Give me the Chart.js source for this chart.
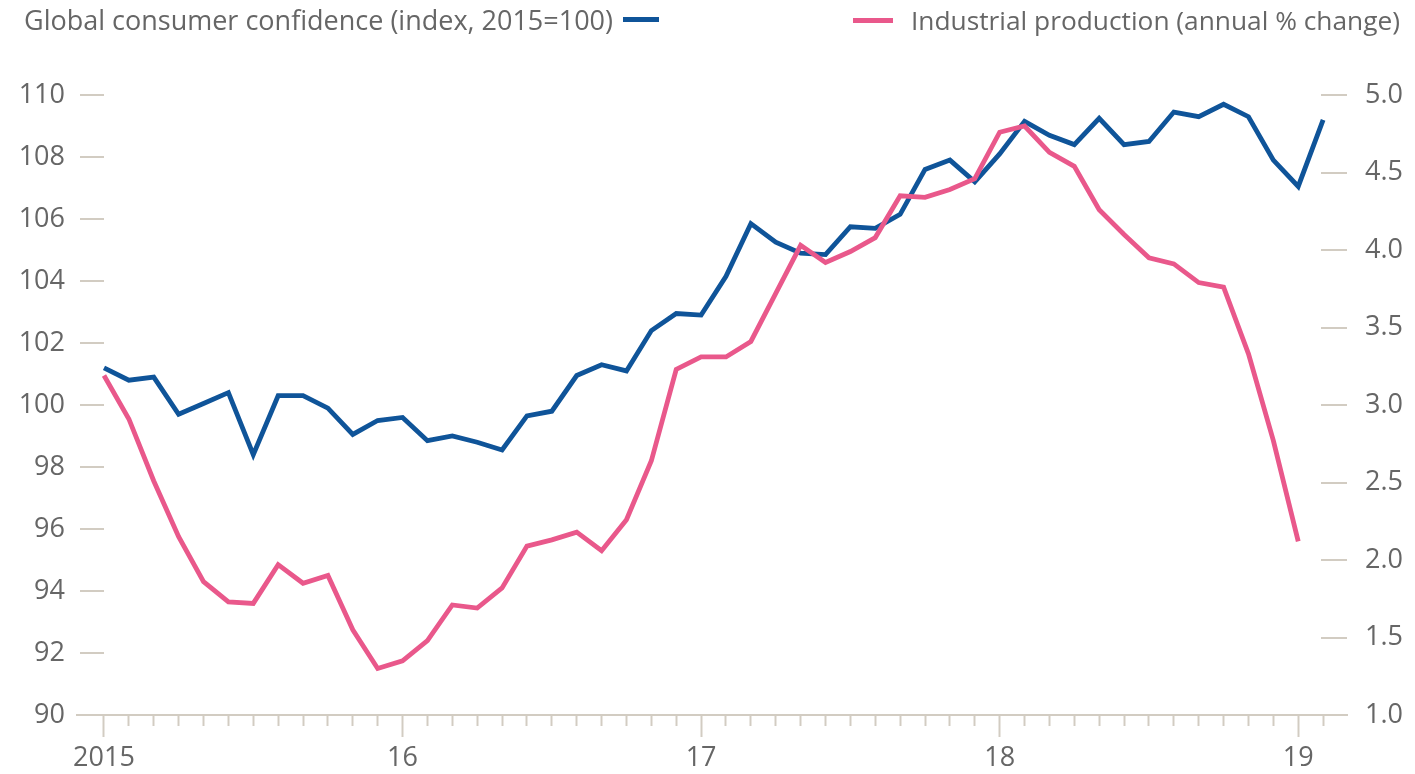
<!DOCTYPE html>
<html lang="en">
<head>
<meta charset="UTF-8">
<title>Global consumer confidence and industrial production</title>
<script src="https://cdn.jsdelivr.net/npm/chart.js"></script>
<style>
  body {
    margin: 0;
    background: #fff;
    font-family: 'Open Sans', sans-serif;
  }
  .wrap {
    position: relative;
    width: 1415px;
    height: 774px;
  }
  .legend {
    position: absolute;
    top: 1px;
    display: flex;
    align-items: center;
    font-size: 27px;
    color: #666;
    white-space: nowrap;
  }
  .legend .swatch {
    display: inline-block;
    width: 36px;
    height: 5px;
  }
  #legendLeft { left: 24px; }
  #legendLeft .swatch { margin-left: 10px; background: #0f5499; }
  #legendRight { right: 15px; font-size: 26.3px; top: 2px; }
  #legendRight .swatch { margin-right: 18px; background: #e9588b; width: 40px; }
</style>
</head>
<body>

<div class="wrap">
  <canvas id="chart" width="1415" height="774"></canvas>
  <div class="legend" id="legendLeft">
    <span>Global consumer confidence (index, 2015=100)</span><span class="swatch"></span>
  </div>
  <div class="legend" id="legendRight">
    <span class="swatch"></span><span>Industrial production (annual % change)</span>
  </div>
</div>

<script>
// monthly, Jan 2015 = month 0
const confidence = [
  101.2, 100.8, 100.9, 99.7, 100.05, 100.4, 98.4, 100.3, 100.3, 99.9, 99.05, 99.5,
  99.6, 98.85, 99.0, 98.8, 98.55, 99.65, 99.8, 100.95, 101.3, 101.1, 102.4, 102.95,
  102.9, 104.15, 105.85, 105.25, 104.9, 104.85, 105.75, 105.7, 106.15, 107.6, 107.9, 107.2,
  108.1, 109.15, 108.7, 108.4, 109.25, 108.4, 108.5, 109.45, 109.3, 109.7, 109.3, 107.9,
  107.05, 109.2
];
const production = [
  3.19, 2.91, 2.51, 2.15, 1.86, 1.73, 1.72, 1.97, 1.85, 1.90, 1.55, 1.30,
  1.35, 1.48, 1.71, 1.69, 1.82, 2.09, 2.13, 2.18, 2.06, 2.26, 2.64, 3.23,
  3.31, 3.31, 3.41, 3.72, 4.03, 3.92, 3.99, 4.08, 4.35, 4.34, 4.39, 4.46,
  4.76, 4.80, 4.63, 4.54, 4.26, 4.10, 3.95, 3.91, 3.79, 3.76, 3.33, 2.77,
  2.12
];
const yearMonths = [0, 12, 24, 36, 48];
const yearLabels = ['2015', '16', '17', '18', '19'];

const BLUE = '#0f5499';
const PINK = '#e9588b';
const TEXT = '#666';
const RULE = '#d2ccc2';
const tickFont = { family: 'Open Sans', size: 27 };

function isYear(v) {
  return yearMonths.includes(v);
}

new Chart(document.getElementById('chart'), {
  type: 'line',
  data: {
    datasets: [
      {
        label: 'Industrial production (annual % change)',
        data: production.map((v, i) => ({ x: i, y: v })),
        yAxisID: 'y1',
        borderColor: PINK,
        borderWidth: 4.8,
        pointRadius: 0,
        tension: 0,
        order: 0
      },
      {
        label: 'Global consumer confidence (index, 2015=100)',
        data: confidence.map((v, i) => ({ x: i, y: v })),
        yAxisID: 'y',
        borderColor: BLUE,
        borderWidth: 4.8,
        pointRadius: 0,
        tension: 0,
        order: 1
      }
    ]
  },
  options: {
    responsive: false,
    animation: false,
    layout: { padding: { top: 95, left: 0, right: 0, bottom: 0 } },
    plugins: {
      legend: { display: false },
      tooltip: { enabled: false }
    },
    scales: {
      x: {
        type: 'linear',
        min: -1.085,
        max: 49.96,
        afterBuildTicks: s => {
          s.ticks = confidence.map((v, i) => ({ value: i }));
        },
        afterFit: s => { s.height = 59; },
        ticks: {
          autoSkip: false,
          maxRotation: 0,
          padding: 5,
          color: TEXT,
          font: tickFont,
          callback: v => {
            const k = yearMonths.indexOf(v);
            return k >= 0 ? yearLabels[k] : '';
          }
        },
        grid: {
          drawOnChartArea: false,
          drawTicks: true,
          tickLength: 22,
          tickWidth: 2,
          tickColor: RULE,
          tickBorderDash: ctx => (ctx.tick && isYear(ctx.tick.value)) ? [] : [10, 100]
        },
        border: { display: true, color: RULE, width: 2 }
      },
      y: {
        position: 'left',
        min: 90,
        max: 110,
        afterFit: s => { s.width = 77; },
        ticks: { stepSize: 2, padding: 12, color: TEXT, font: tickFont },
        grid: { drawTicks: false, color: RULE, lineWidth: 2 },
        border: { display: false, dash: [24, 5000], dashOffset: -3 }
      },
      y1: {
        position: 'right',
        min: 1,
        max: 5,
        afterFit: s => { s.width = 68; },
        ticks: {
          stepSize: 0.5,
          padding: 18,
          color: TEXT,
          font: tickFont,
          callback: v => v.toFixed(1)
        },
        grid: { drawTicks: false, color: RULE, lineWidth: 2 },
        border: { display: false, dash: [26, 5000], dashOffset: -1244 }
      }
    }
  }
});
</script>

</body>
</html>
